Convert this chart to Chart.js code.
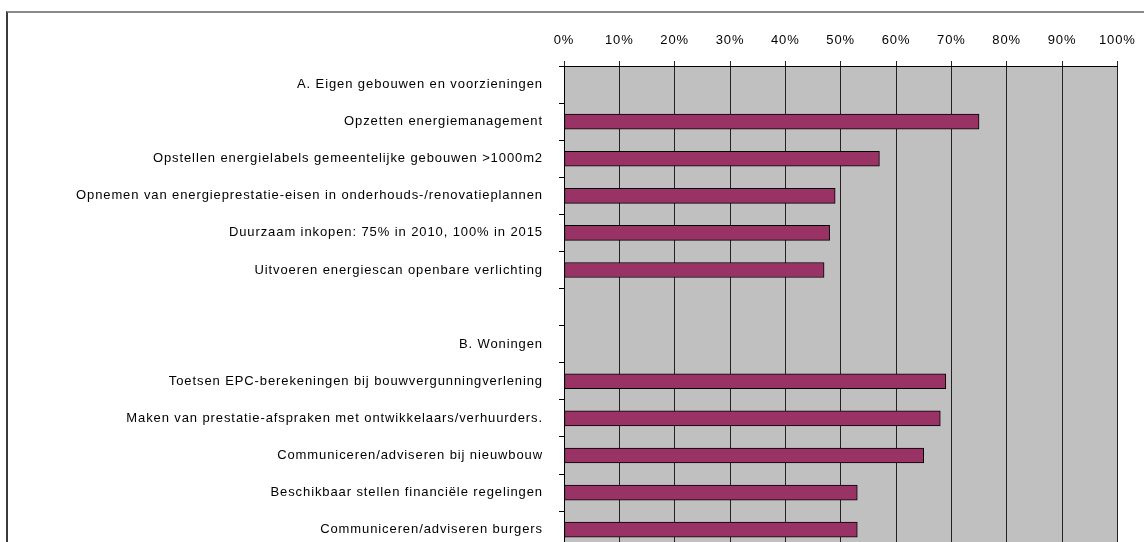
<!DOCTYPE html>
<html>
<head>
<meta charset="utf-8">
<script src="https://cdn.jsdelivr.net/npm/chart.js@4/dist/chart.umd.min.js"></script>
<style>
  html, body { margin: 0; padding: 0; background: #fff; overflow: hidden; }
  #wrap { position: relative; width: 1144px; height: 542px; overflow: hidden; }
  #frame { position: absolute; left: 6px; top: 11px; width: 1150px; height: 600px;
           border-top: 2px solid #8a8a8a; border-left: 2px solid #3a3a3a; }
  canvas { position: absolute; left: 0; top: 0; }
</style>
</head>
<body>
<div id="wrap">
  <div id="frame"></div>
  <canvas id="grafico" width="1147" height="572"></canvas>
</div>
<script>
// categorieën (lege rijen en kopjes hebben geen waarde)
const categorieen = [
    'A. Eigen gebouwen en voorzieningen',
    'Opzetten energiemanagement',
    'Opstellen energielabels gemeentelijke gebouwen >1000m2',
    'Opnemen van energieprestatie-eisen in onderhouds-/renovatieplannen',
    'Duurzaam inkopen: 75% in 2010, 100% in 2015',
    'Uitvoeren energiescan openbare verlichting',
    '',
    'B. Woningen',
    'Toetsen EPC-berekeningen bij bouwvergunningverlening',
    'Maken van prestatie-afspraken met ontwikkelaars/verhuurders.',
    'Communiceren/adviseren bij nieuwbouw',
    'Beschikbaar stellen financiële regelingen',
    'Communiceren/adviseren burgers'
];
const percentages = [null, 75, 57, 49, 48, 47, null, null, 69, 68, 65, 53, 53];
const asTicks = ['0%', '10%', '20%', '30%', '40%', '50%', '60%', '70%', '80%', '90%', '100%'];

const achtergrond = {
    id: 'achtergrond',
    beforeDraw(chart) {
        const { ctx, chartArea } = chart;
        ctx.letterSpacing = '0.9px';
        ctx.save();
        ctx.fillStyle = '#c0c0c0';
        ctx.fillRect(chartArea.left, chartArea.top, chartArea.right - chartArea.left, chartArea.bottom - chartArea.top);
        ctx.restore();
    }
};

Chart.defaults.font.family = '"Liberation Sans", Arial, sans-serif';
Chart.defaults.font.size = 13;
Chart.defaults.color = '#000';

const ctx = document.getElementById('grafico').getContext('2d');
new Chart(ctx, {
    type: 'bar',
    data: {
        labels: categorieen,
        datasets: [{
            data: percentages,
            backgroundColor: '#993366',
            borderColor: '#000',
            borderWidth: 1,
            borderSkipped: false,
            barThickness: 15
        }]
    },
    options: {
        indexAxis: 'y',
        responsive: false,
        animation: false,
        layout: { padding: { top: 0, left: 0, right: 22, bottom: 1 } },
        plugins: {
            legend: { display: false },
            tooltip: { enabled: false }
        },
        scales: {
            x: {
                position: 'top',
                min: 0,
                max: 100,
                afterFit(scale) { scale.height = 66; },
                ticks: {
                    stepSize: 10,
                    padding: 13,
                    maxRotation: 0,
                    autoSkip: false,
                    callback: (v) => asTicks[Math.round(v / 10)]
                },
                grid: { color: '#222', lineWidth: 1, tickLength: 5 },
                border: { color: '#000', width: 1 }
            },
            y: {
                afterFit(scale) { scale.width = 564; },
                ticks: { padding: 16, autoSkip: false },
                grid: { drawOnChartArea: false, color: '#000', tickLength: 5, offset: true },
                border: { color: '#000', width: 1 }
            }
        }
    },
    plugins: [achtergrond]
});
</script>
</body>
</html>
